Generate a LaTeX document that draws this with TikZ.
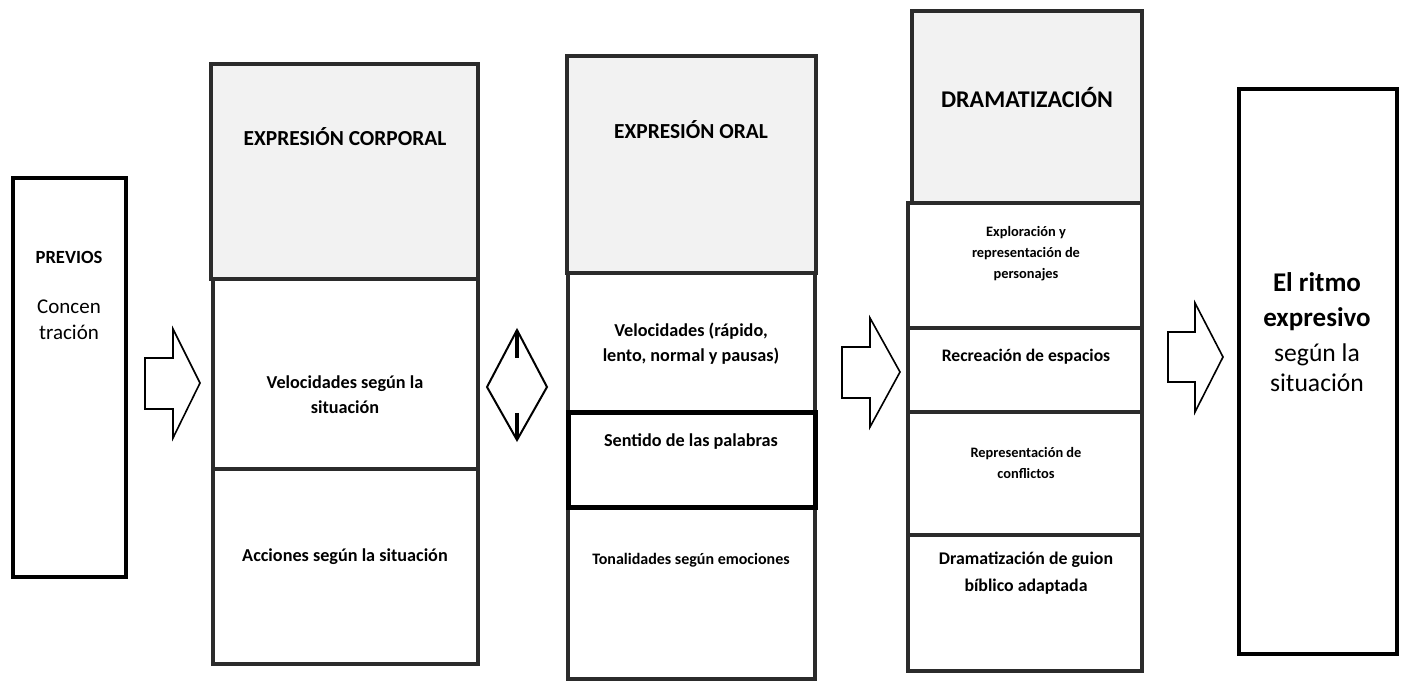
\documentclass[tikz,border=0pt]{standalone}
\usepackage{fontspec}
\setmainfont{Carlito}
\usepackage{xcolor}
\definecolor{edgegray}{HTML}{2B2B2B}
\definecolor{headfill}{HTML}{F2F2F2}
\tikzset{
    colbox/.style={draw=edgegray,line width=2pt},
    headbox/.style={colbox,fill=headfill},
    blockarrow/.style={draw=black,line width=0.8pt,fill=white,line join=miter},
    headtxt/.style={font=\bfseries\fontsize{10.7}{13}\selectfont,align=center},
    bodytxt/.style={font=\bfseries\fontsize{9.1}{12.5}\selectfont,align=center},
    smalltxt/.style={font=\bfseries\fontsize{7.2}{10.5}\selectfont,align=center}
}
\begin{document}
\begin{tikzpicture}[x=0.5pt,y=-0.5pt]
            \useasboundingbox (0,0) rectangle (1408,683);

            \begin{scope}
                \draw[line width=1.6pt] (13,178) rectangle (126,577);
                \node[font=\bfseries\fontsize{9.3}{11}\selectfont] (previos) at (69,257) {PREVIOS};
                \node[font=\fontsize{10.5}{13}\selectfont,align=center] (concentracion) at (69,320) {Concen\\tración};
            \end{scope}

            \draw[blockarrow] (145,358)--(173,358)--(173,329)--(200,383)--(173,438)--(173,409)--(145,409)--cycle;

            \begin{scope}
                \draw[headbox] (211,64) rectangle (478,279);
                \draw[colbox] (213,279) rectangle (478,469);
                \draw[colbox] (213,469) rectangle (478,664);
                \node[headtxt] (corporal) at (345,137) {EXPRESIÓN CORPORAL};
                \node[bodytxt] (corpvel) at (345,395) {Velocidades según la\\situación};
                \node[bodytxt] (corpacc) at (345,557) {Acciones según la situación};
            \end{scope}

            \draw[line width=1pt,line join=miter] (487,387)--(517,330)--(547,387)--(517,440)--cycle;
            \draw[line width=1.6pt] (517,331)--(517,358);
            \draw[line width=1.6pt] (517,413)--(517,439);

            \begin{scope}
                \draw[headbox] (567,56) rectangle (816,273);
                \draw[colbox] (568,273) rectangle (815,413);
                \draw[colbox] (568,508) rectangle (815,679);
                \draw[black,line width=2.5pt] (568,413) rectangle (815,508);
                \node[headtxt] (oral) at (691,130) {EXPRESIÓN ORAL};
                \node[bodytxt] (oralvel) at (691,344) {Velocidades (rápido,\\lento, normal y pausas)};
                \node[bodytxt] (sentido) at (691,442) {Sentido de las palabras};
                \node[font=\bfseries\fontsize{8}{10}\selectfont] (tonos) at (691,560) {Tonalidades según emociones};
            \end{scope}

            \draw[blockarrow] (842,347)--(870,347)--(870,318)--(900,372)--(870,427)--(870,398)--(842,398)--cycle;

            \begin{scope}
                \draw[headbox] (912,11) rectangle (1142,203);
                \draw[colbox] (908,203) rectangle (1142,328);
                \draw[colbox] (908,328) rectangle (1142,412);
                \draw[colbox] (908,412) rectangle (1142,535);
                \draw[colbox] (908,535) rectangle (1142,671);
                \node[headtxt,font=\bfseries\fontsize{12}{14}\selectfont] (drama) at (1027,98) {DRAMATIZACIÓN};
                \node[smalltxt] (explora) at (1026,254) {Exploración y\\representación de\\personajes};
                \node[bodytxt,font=\bfseries\fontsize{8.8}{11}\selectfont] (espacios) at (1026,357) {Recreación de espacios};
                \node[smalltxt] (conflictos) at (1026,463) {Representación de\\conflictos};
                \node[bodytxt,font=\bfseries\fontsize{8.9}{13.2}\selectfont] (guion) at (1026,573) {Dramatización de guion\\bíblico adaptada};
            \end{scope}

            \draw[blockarrow] (1168,332)--(1195,332)--(1195,303)--(1223,357)--(1195,412)--(1195,382)--(1168,382)--cycle;

            \draw[line width=2pt] (1239,89) rectangle (1397,654);
            \node[font=\bfseries\fontsize{13.5}{17.5}\selectfont,align=center] (ritmo) at (1317,302) {El ritmo\\expresivo};
            \node[font=\fontsize{12.8}{15}\selectfont,align=center] (situacion) at (1317,368) {según la\\situación};
        \end{tikzpicture}
\end{document}
